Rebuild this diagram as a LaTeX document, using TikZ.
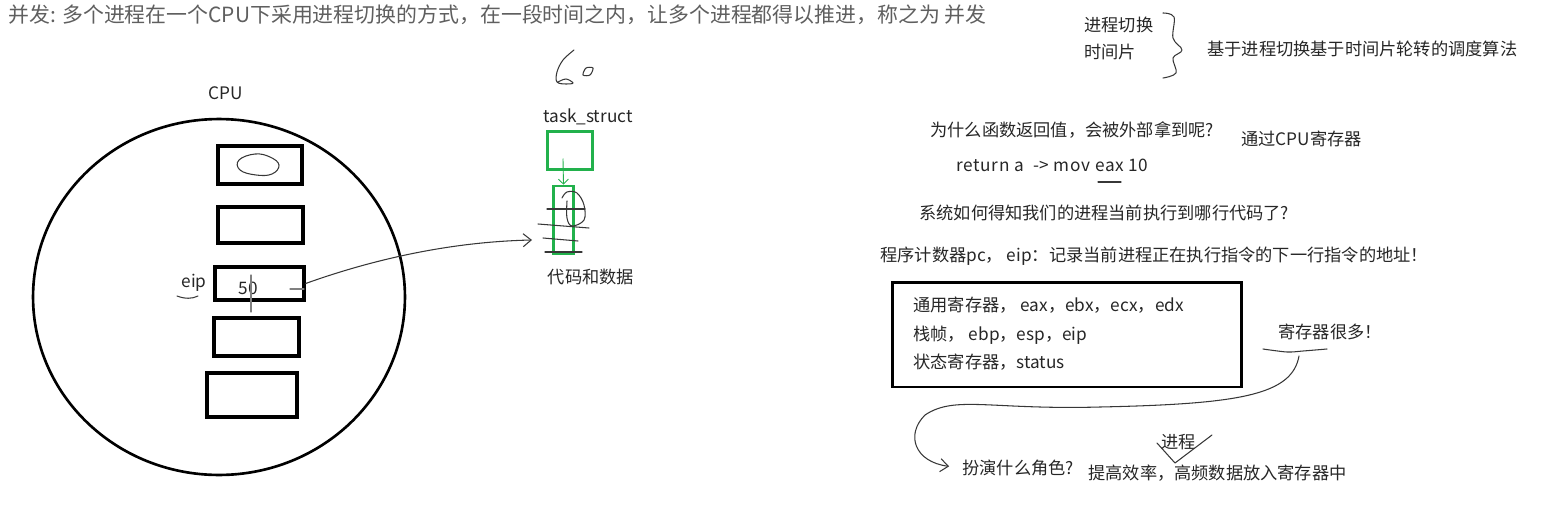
\documentclass[tikz,border=0pt]{standalone}
\usepackage{fontspec}
\setmainfont{Noto Sans CJK SC}
\usepackage{xcolor}
\usepackage{tikz}
\usetikzlibrary{arrows.meta, positioning, shapes.geometric}
\definecolor{paintgreen}{RGB}{34,177,76}
\definecolor{inkgray}{RGB}{55,55,55}
\definecolor{titlegray}{RGB}{95,95,95}

\begin{document}
\begin{tikzpicture}[
			x=0.02cm, y=-0.02cm,
			txt/.style={inner sep=0pt, font=\fontsize{9.8}{12}\selectfont, text=black!85},
			lefttxt/.style={txt, anchor=west},
			reg/.style={rectangle, draw, line width=1.9pt, inner sep=0pt},
			greenbox/.style={rectangle, draw=paintgreen, line width=1.5pt, inner sep=0pt},
			pen/.style={draw=inkgray, line width=0.6pt, line cap=round, line join=round},
			barb/.style={-{Straight Barb[length=1.6mm, width=2.6mm]}}
		]
		\useasboundingbox (0,0) rectangle (1542,504);
		\node[lefttxt, text=titlegray, font=\fontsize{11.9}{14}\selectfont] (title) at (8,15) {并发: 多个进程在一个CPU下采用进程切换的方式，在一段时间之内，让多个进程都得以推进，称之为 并发};
		
		% CPU and its registers
		\node[draw, ellipse, line width=1.5pt, inner sep=0pt, minimum width=7.44cm, minimum height=7.12cm] (cpu) at (219,297) {};
		\node[txt] (cpulbl) at (226,93) {CPU};
		\node[reg, minimum width=1.68cm, minimum height=0.76cm] (r1) at (260,165) {};
		\node[reg, minimum width=1.70cm, minimum height=0.72cm] (r2) at (260.5,225) {};
		\node[reg, minimum width=1.78cm, minimum height=0.66cm] (r3) at (259.5,283.5) {};
		\node[reg, minimum width=1.70cm, minimum height=0.76cm] (r4) at (256.5,337) {};
		\node[reg, minimum width=1.80cm, minimum height=0.88cm] (r5) at (252,395) {};
		\node[txt] (val) at (248,288) {50};
		\node[txt] (eip) at (194,283) {eip};
		\draw[pen] plot[smooth cycle, tension=0.7] coordinates {(255,154) (270,157) (279,165) (272,174) (256,175) (240,170) (239,160)};
		\draw[pen] (177,296) .. controls (185,299) and (192,299) .. (198,296);
		\draw[pen, draw=gray] (251,275) -- (251,312);
		\draw[pen, draw=gray] (290,289) -- (304,289);
		
		% task_struct and code
		\node[txt] (tasklbl) at (588,117) {task\_struct};
		\node[greenbox, minimum width=0.9cm, minimum height=0.76cm] (task) at (570,150.5) {};
		\node[greenbox, minimum width=0.40cm, minimum height=1.36cm] (code) at (563.5,220) {};
		\node[txt] (codelbl) at (591,277) {代码和数据};
		\draw[draw=paintgreen, line width=0.5pt, -{Straight Barb[length=1mm, width=2mm]}] ([shift={(-7,8)}]task.center) -- (code.north);
		\draw[pen] (547,209) -- (585,209);
		\draw[pen] (538,224) -- (589,228);
		\draw[pen] (543,238) -- (578,241);
		\draw[pen] (545,252) -- (582,252);
		\draw[pen] plot[smooth, tension=0.6] coordinates {(562,198) (567,192) (577,193) (584,205) (584,220) (572,226) (567,218) (567,201)};
		\draw[pen] plot[smooth, tension=0.6] coordinates {(574,50) (563,60) (557,72) (557,82) (566,84) (573,83) (566,79) (558,82)};
		\draw[pen] plot[smooth cycle, tension=0.5] coordinates {(583,75) (586,68) (593,68) (590,75)};
		
		\coordinate (pcend) at (532,240);
		\draw[pen, barb] (r3.east) .. controls (360,264) and (440,242) .. (pcend);
		
		% notes on the right
		\node[lefttxt] (switch) at (1084,25) {进程切换};
		\node[lefttxt] (slice) at (1084,52) {时间片};
		\draw[pen] plot[smooth, tension=0.6] coordinates {(1163,13) (1174,17) (1173,38) (1182,50) (1173,58) (1176,73) (1163,78)};
		\node[lefttxt] (sched) at (1207,49) {基于进程切换基于时间片轮转的调度算法};
		\node[lefttxt] (why) at (930,130) {为什么函数返回值，会被外部拿到呢?};
		\node[lefttxt] (via) at (1241,139) {通过CPU寄存器};
		\node[lefttxt] (ret) at (956,165) {\addfontfeature{LetterSpace=4}return a\ \ -> mov eax 10};
		\draw[pen] (1098,182) -- (1121,182);
		\node[lefttxt] (how) at (919,213) {系统如何得知我们的进程当前执行到哪行代码了?};
		\node[lefttxt] (pc) at (880,256) {程序计数器pc， eip：记录当前进程正在执行指令的下一行指令的地址！};
		
		\node[reg, line width=1.7pt, minimum width=7.0cm, minimum height=2.1cm] (regbox) at (1067,334.5) {};
		\node[lefttxt] (gen) at (913,305) {通用寄存器， eax，ebx，ecx，edx};
		\node[lefttxt] (frame) at (913,335) {栈帧， ebp，esp，eip};
		\node[lefttxt] (status) at (913,362) {状态寄存器，status};
		
		\node[lefttxt] (many) at (1278,332) {寄存器很多！};
		\draw[pen] plot[smooth] coordinates {(1263,349) (1287,352) (1303,351) (1327,349)};
		\node[lefttxt] (role) at (962,468) {扮演什么角色?};
		\node[lefttxt] (speed) at (1088,473) {提高效率，高频数据放入寄存器中};
		\node[lefttxt] (insert) at (1161,442) {进程};
		\draw[pen] (1157,443) -- (1175,463) -- (1212,435);
		
		\coordinate (manytail) at (1299,356);
		\draw[pen, barb, shorten >=0.26cm] (manytail) .. controls (1292,395) and (1240,404) .. (1100,407) .. controls (990,410) and (955,395) .. (925,415) .. controls (905,435) and (915,462) .. (role.west);
		\end{tikzpicture}
\end{document}
